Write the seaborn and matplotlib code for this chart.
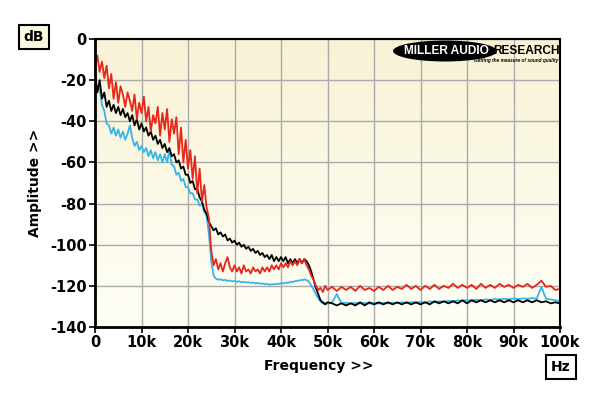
import numpy as np
import pandas as pd
import matplotlib
matplotlib.use("Agg")
import matplotlib.pyplot as plt
from matplotlib.patches import Ellipse
import seaborn as sns

# frequency grid of the readings (kHz): 0.5k steps to 50k, then 1k steps
freq_khz = np.concatenate([np.arange(0, 50.5, 0.5), np.arange(51, 101, 1)])

# red trace
red_lo = [
    -14, -8, -16, -11, -19, -13, -24, -17, -29, -21,
    -31, -23, -27, -33, -26, -30, -35, -27, -39, -31,
    -36, -28, -40, -33, -45, -37, -41, -33, -47, -36,
    -44, -34, -50, -39, -46, -38, -56, -43, -60, -49,
    -63, -54, -68, -57, -75, -63, -79, -71, -82, -87,
    -103, -110, -107, -112, -109, -113, -109, -106, -111, -113,
    -110, -113, -111, -114, -110, -113, -112, -114, -111, -113,
    -112, -114, -111, -113, -111, -113, -110, -112, -110, -112,
    -109, -111, -109, -111, -108, -110, -108, -110, -107, -109,
    -107, -110, -112, -115, -117, -120, -122, -121, -123, -120,
    -122,
]
red_hi = [
    -120.5, -122.5, -120.5, -122, -120.5, -122.5, -120, -122, -121, -122.5,
    -120.5, -122, -120, -122, -120.5, -121.5, -119.5, -121.5, -120, -122,
    -120, -121.5, -119.5, -121.5, -120, -121, -119, -121, -119.5, -121,
    -119.5, -121.5, -119, -121, -119.5, -121, -119, -120.5, -119.5, -121,
    -119.5, -120.5, -119, -121, -119.5, -117.5, -120.5, -120, -122, -121.5,
]

# black trace
black_lo = [
    -17, -26, -20, -29, -26, -33, -30, -35, -32, -36,
    -33, -37, -34, -38, -36, -40, -37, -42, -39, -44,
    -41, -45, -43, -47, -45, -49, -47, -51, -49, -53,
    -51, -55, -53, -57, -56, -60, -59, -63, -62, -66,
    -66, -70, -69, -73, -73, -77, -79, -83, -85, -89,
    -91, -93, -92, -95, -94, -96, -95, -98, -97, -99,
    -98, -100, -99, -101, -100, -102, -101, -103, -102, -104,
    -103, -105, -104, -106, -105, -107, -105, -108, -106, -108,
    -106, -108, -106, -109, -107, -109, -107, -109, -107, -109,
    -107, -108, -110, -113, -117, -121, -124, -127, -128, -129,
    -128,
]
black_hi = [
    -128.5, -129.5, -128.5, -129.5, -128.5, -129.5, -128, -129.5, -128, -129,
    -128, -129, -128, -129, -128, -129, -128, -129, -128, -129,
    -128, -129, -127.5, -128.5, -127.5, -128.5, -127.5, -128.5, -127, -128.5,
    -127, -128, -127, -128, -127, -128, -127, -128, -127, -128,
    -127, -128, -127, -128, -127, -128, -127.5, -128.5, -128, -128.5,
]

# cyan trace
cyan_lo = [
    -20, -25, -24, -32, -35, -41, -42, -46, -43, -47,
    -44, -48, -45, -49, -46, -42, -48, -52, -50, -54,
    -52, -55, -53, -57, -54, -58, -55, -59, -56, -60,
    -56, -60, -54, -61, -62, -66, -65, -69, -68, -72,
    -72, -75, -75, -78, -78, -81, -80, -84, -86, -95,
    -108, -115, -116.5, -117, -116.8, -117.3, -117.1, -117.6, -117.4, -117.8,
    -117.6, -118, -117.8, -118.2, -118, -118.4, -118.2, -118.6, -118.4, -118.8,
    -118.6, -119, -118.8, -119.2, -119, -119.5, -119.2, -119.3, -119, -119.1,
    -118.7, -118.8, -118.4, -118.5, -118.1, -118.1, -117.7, -117.6, -117.3, -117.2,
    -116.9, -117.2, -118, -119.8, -121.8, -124, -126, -127.6, -128.6, -128.3,
    -128.7,
]
cyan_hi = [
    -128, -124, -128.5, -128.2, -128.6, -128.3, -128.6, -128.3, -128.6, -128.4,
    -128.6, -128.3, -128.5, -128.2, -128.4, -128, -128.3, -127.9, -128.2, -127.8,
    -128, -127.6, -127.9, -127.5, -127.7, -127.3, -127.5, -127.1, -127.3, -126.9,
    -127.1, -126.8, -127, -126.6, -126.8, -126.4, -126.6, -126.3, -126.5, -126.2,
    -126.4, -126.1, -126.3, -126, -126.2, -120.5, -126.3, -126.6, -127, -127.4,
]

y_ticks = [0, -20, -40, -60, -80, -100, -120, -140]
x_ticks = [0, 10000, 20000, 30000, 40000, 50000, 60000, 70000, 80000, 90000, 100000]
x_tick_labels = ["0", "10k", "20k", "30k", "40k", "50k", "60k", "70k", "80k", "90k", "100k"]

colors = {"cyan": "#35b6e8", "black": "#000000", "red": "#e8261a"}

hz = freq_khz * 1000
df = pd.concat([
    pd.DataFrame({"freq": hz, "db": cyan_lo + cyan_hi, "trace": "cyan"}),
    pd.DataFrame({"freq": hz, "db": black_lo + black_hi, "trace": "black"}),
    pd.DataFrame({"freq": hz, "db": red_lo + red_hi, "trace": "red"}),
])

sns.set_style("white")
plt.rcParams["font.family"] = ["DejaVu Sans"]
plt.rcParams["axes.unicode_minus"] = False
for key in ["text.color", "axes.labelcolor", "xtick.color", "ytick.color"]:
    plt.rcParams[key] = "black"

fig = plt.figure(figsize=(6, 3.96), dpi=100)
ax = fig.add_axes([95 / 600, 1 - 327 / 396, 465 / 600, 288 / 396])

# pale yellow gradient background
grad = np.linspace(0, 1, 256).reshape(-1, 1)
top = np.array([0.972, 0.950, 0.835])
bot = np.array([1.0, 0.998, 0.965])
img = top[None, None, :] * (1 - grad[..., None]) + bot[None, None, :] * grad[..., None]
ax.imshow(img, extent=[0, 100000, -140, 0], aspect="auto", zorder=0)

sns.lineplot(data=df, x="freq", y="db", hue="trace", hue_order=["cyan", "black", "red"],
             palette=colors, linewidth=1.3, legend=False, sort=False, estimator=None, ax=ax)

ax.set_xlim(0, 100000)
ax.set_ylim(-140, 0)
ax.set_xticks(x_ticks)
ax.set_xticklabels(x_tick_labels)
ax.set_yticks(y_ticks)
ax.set_yticklabels([str(t) for t in y_ticks])
ax.set_axisbelow(True)
ax.grid(True, color="#aaaaaa", linewidth=1.0)
for s in ax.spines.values():
    s.set_color("black")
    s.set_linewidth(1.5)
ax.spines["left"].set_linewidth(2.0)
ax.spines["bottom"].set_linewidth(2.0)
ax.tick_params(direction="out", length=4, width=1.2, color="black", pad=2,
               labelsize=10.5, left=True, bottom=True, labelcolor="black")
for lab in ax.get_xticklabels() + ax.get_yticklabels():
    lab.set_fontweight("bold")

ax.set_xlabel("Frequency >>", fontsize=10, fontweight="bold")
ax.set_ylabel("Amplitude >>", fontsize=10, fontweight="bold")
ax.xaxis.set_label_coords((319 - 95) / 465, (327 - 359) / 288)
ax.yaxis.set_label_coords((42 - 95) / 465, 0.5)

fig.text(34 / 600, 1 - 37 / 396, "dB", fontsize=10, fontweight="bold", ha="center", va="center",
         bbox=dict(boxstyle="square,pad=0.35", facecolor="#fbf8e0", edgecolor="black", linewidth=1.5))
fig.text(561 / 600, 1 - 367 / 396, "Hz", fontsize=10, fontweight="bold", ha="center", va="center",
         bbox=dict(boxstyle="square,pad=0.35", facecolor="white", edgecolor="black", linewidth=1.5))

# logo
fig.add_artist(Ellipse((445 / 600, 1 - 51 / 396), 104 / 600, 21 / 396,
                       transform=fig.transFigure, facecolor="black", edgecolor="none", zorder=5))
fig.text(446 / 600, 1 - 51 / 396, "MILLER AUDIO", color="white", fontsize=8.6, fontweight="bold",
         family="Liberation Sans", ha="center", va="center", zorder=6)
fig.text(493 / 600, 1 - 51 / 396, "RESEARCH", color="black", fontsize=8.6, fontweight="bold",
         family="Liberation Sans", ha="left", va="center", zorder=6)
fig.text(558 / 600, 1 - 60.5 / 396, "Getting the measure of sound quality", color="black", fontsize=3.4,
         fontweight="bold", style="italic", family="Liberation Sans", ha="right", va="center", zorder=6)

fig.savefig("out.png", dpi=100, facecolor="white")
